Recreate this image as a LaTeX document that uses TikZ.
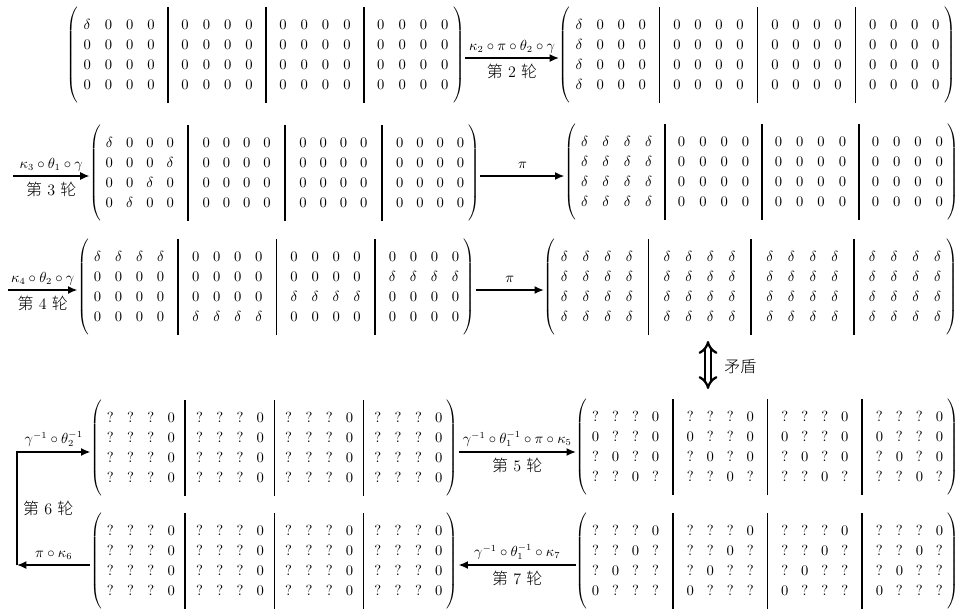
\documentclass[tikz,border=0pt]{standalone}
\usepackage{fontspec}
\usepackage{array}
\newfontfamily\cjk{Noto Sans CJK SC Light}
\usetikzlibrary{arrows.meta}

% one unit of the picture
\newlength\px \setlength\px{0.75pt}

% block matrices: 4 blocks of 4x4 entries separated by bold bars
\newlength\mcolw \newlength\mgap \newlength\mmarg
\newcolumntype{E}{w{c}{\mcolw}}
\newcolumntype{B}{@{\hspace{\mgap}\vrule width 1.2pt\hspace{\mgap}}}
\newcolumntype{M}{@{\hspace{\mmarg}}}
\newcommand\toprow{\rule{0pt}{16.8pt}}
\newcommand\botrow{\rule[-10.2pt]{0pt}{10.2pt}}
% #1 column pitch, #2 distance between neighbouring columns across a bar,
% #3 space next to the parentheses, #4 rows
\newcommand\bmat[4]{%
  \setlength\mcolw{#1\px}%
  \setlength\mgap{#2\px}\addtolength\mgap{-#1\px}\setlength\mgap{0.5\mgap}%
  \setlength\mmarg{#3\px}%
  \setlength\arraycolsep{0pt}%
  \renewcommand\arraystretch{1.181}%
  $\left(\begin{array}{MEEEEBEEEEBEEEEBEEEEM}#4\end{array}\right)$}

\newcommand\zrow{0&0&0&0}
\newcommand\drow{\delta&\delta&\delta&\delta}
\newcommand\qrow{?&?&?&0}
\newcommand\lun[1]{{\cjk 第} #1 {\cjk 轮}}

\begin{document}
\begin{tikzpicture}[x=0.75pt,y=-0.75pt,
  every node/.style={font=\fontsize{10.6}{12.7}\selectfont},
  mat/.style={inner sep=0pt, outer sep=0pt},
  arr/.style={line width=1.2pt, -{Latex[length=7pt,width=6pt]}},
  lbl/.style={inner sep=1pt},
  cn/.style={inner sep=1pt, font=\fontsize{12}{14}\selectfont},
  dbl/.style={line width=1.7pt, double distance=3pt, {Implies}-{Implies}}]
\useasboundingbox (0,0) rectangle (957,615);

% ---- round 1 -> 2
\node[mat] (A) at (266,55) {\bmat{21.3}{32.4}{-2}{
  \toprow\delta&0&0&0&\zrow&\zrow&\zrow\\
  \zrow&\zrow&\zrow&\zrow\\
  \zrow&\zrow&\zrow&\zrow\\
  \botrow\zrow&\zrow&\zrow&\zrow}};
\node[mat] (B) at (757.5,55) {\bmat{21}{33.3}{-2}{
  \toprow\delta&0&0&0&\zrow&\zrow&\zrow\\
  \delta&0&0&0&\zrow&\zrow&\zrow\\
  \delta&0&0&0&\zrow&\zrow&\zrow\\
  \botrow\delta&0&0&0&\zrow&\zrow&\zrow}};
\draw[arr] ([yshift=-3\px]A.east) -- ([yshift=-3\px]B.west)
  node[lbl, midway, above=3\px] {$\kappa_2\circ\pi\circ\theta_2\circ\gamma$}
  node[cn, midway, below=4\px] {\lun{2}};

% ---- round 3
\node[mat] (C) at (285,173) {\bmat{20.3}{34.3}{-2}{
  \toprow\delta&0&0&0&\zrow&\zrow&\zrow\\
  0&0&0&\delta&\zrow&\zrow&\zrow\\
  0&0&\delta&0&\zrow&\zrow&\zrow\\
  \botrow 0&\delta&0&0&\zrow&\zrow&\zrow}};
\node[mat] (D) at (762,172) {\bmat{21.3}{31.4}{-2}{
  \toprow\drow&\zrow&\zrow&\zrow\\
  \drow&\zrow&\zrow&\zrow\\
  \drow&\zrow&\zrow&\zrow\\
  \botrow\drow&\zrow&\zrow&\zrow}};
\coordinate (in3) at (13,176);
\draw[arr] (in3) -- (in3 -| C.west)
  node[lbl, midway, above=3\px] {$\kappa_3\circ\theta_1\circ\gamma$}
  node[cn, midway, below=4\px] {\lun{3}};
\draw[arr] ([yshift=-3\px]C.east) -- ([yshift=-3\px]C.east -| D.west)
  node[lbl, midway, above=5\px] {$\pi$};

% ---- round 4
\node[mat] (E) at (276.5,287) {\bmat{21}{33.7}{-2}{
  \toprow\drow&\zrow&\zrow&\zrow\\
  \zrow&\zrow&\zrow&\drow\\
  \zrow&\zrow&\drow&\zrow\\
  \botrow\zrow&\drow&\zrow&\zrow}};
\node[mat] (F) at (751,287) {\bmat{21.7}{36}{-2}{
  \toprow\drow&\drow&\drow&\drow\\
  \drow&\drow&\drow&\drow\\
  \drow&\drow&\drow&\drow\\
  \botrow\drow&\drow&\drow&\drow}};
\coordinate (in4) at (8,290);
\draw[arr] (in4) -- (in4 -| E.west)
  node[lbl, midway, above=3\px] {$\kappa_4\circ\theta_2\circ\gamma$}
  node[cn, midway, below=4\px] {\lun{4}};
\draw[arr] ([yshift=-3\px]E.east) -- ([yshift=-3\px]E.east -| F.west)
  node[lbl, midway, above=5\px] {$\pi$};

% ---- rounds 5 to 7, computed backwards
\node[mat] (G) at (274.5,448) {\bmat{20.3}{26.7}{-2}{
  \toprow\qrow&\qrow&\qrow&\qrow\\
  \qrow&\qrow&\qrow&\qrow\\
  \qrow&\qrow&\qrow&\qrow\\
  \botrow\qrow&\qrow&\qrow&\qrow}};
\node[mat] (I) at (767.5,447) {\bmat{20}{33}{-2}{
  \toprow\qrow&\qrow&\qrow&\qrow\\
  0&?&?&0&0&?&?&0&0&?&?&0&0&?&?&0\\
  ?&0&?&0&?&0&?&0&?&0&?&0&?&0&?&0\\
  \botrow ?&?&0&?&?&?&0&?&?&?&0&?&?&?&0&?}};
\node[mat] (H) at (274.5,561) {\bmat{20.3}{26.7}{-2}{
  \toprow\qrow&\qrow&\qrow&\qrow\\
  \qrow&\qrow&\qrow&\qrow\\
  \qrow&\qrow&\qrow&\qrow\\
  \botrow\qrow&\qrow&\qrow&\qrow}};
\node[mat] (J) at (767.5,561) {\bmat{20}{33}{-2}{
  \toprow\qrow&\qrow&\qrow&\qrow\\
  ?&?&0&?&?&?&0&?&?&?&0&?&?&?&0&?\\
  ?&0&?&?&?&0&?&?&?&0&?&?&?&0&?&?\\
  \botrow 0&?&?&?&0&?&?&?&0&?&?&?&0&?&?&?}};

\draw[arr] ([yshift=-4\px]G.east) -- ([yshift=-4\px]G.east -| I.west)
  node[lbl, midway, above=3\px] {$\gamma^{-1}\circ\theta_1^{-1}\circ\pi\circ\kappa_5$}
  node[cn, midway, below=4\px] {\lun{5}};
\draw[arr] ([yshift=-4\px]J.west) -- ([yshift=-4\px]J.west -| H.east)
  node[lbl, midway, above=3\px] {$\gamma^{-1}\circ\theta_1^{-1}\circ\kappa_7$}
  node[cn, midway, below=4\px] {\lun{7}};

% round 6 loops back from the lower left matrix to the upper one
\coordinate (turn) at (17,565);
\draw[arr] (H.west |- turn) -- (turn)
  node[lbl, midway, above=3\px] {$\pi\circ\kappa_6$};
\draw[arr] (turn) |- ([yshift=-4\px]G.west)
  node[lbl, pos=0.75, above=3\px] {$\gamma^{-1}\circ\theta_2^{-1}$}
  node[cn, pos=0.25, right=4\px] {\lun{6}};

% contradiction between the two middle states
\coordinate (dx) at (708,0);
\draw[dbl, shorten <=6\px, shorten >=10\px] (F.south -| dx) -- (I.north -| dx)
  node[cn, midway, right=14\px] {\cjk 矛盾};
\end{tikzpicture}
\end{document}
